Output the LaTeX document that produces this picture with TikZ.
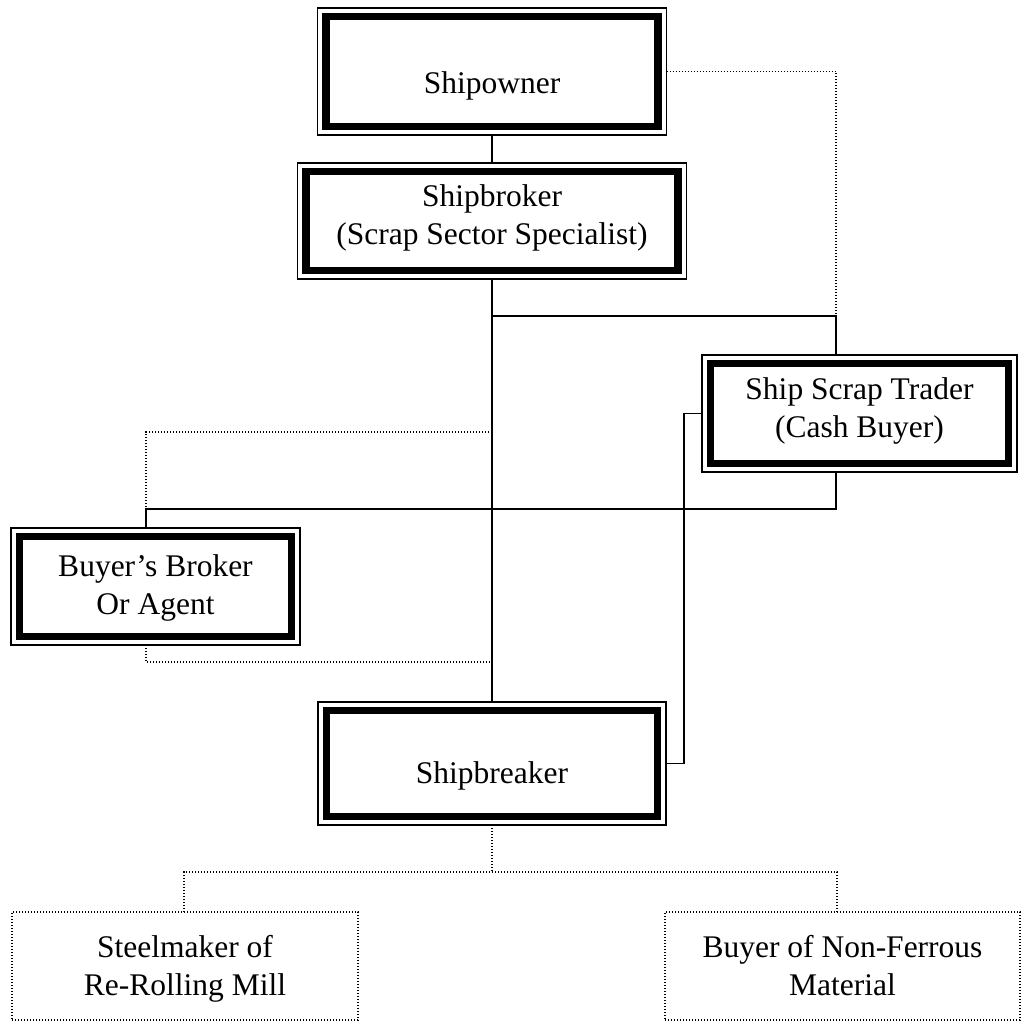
\documentclass[tikz,border=0pt]{standalone}
\usepackage{fontspec}
\setmainfont{Liberation Serif}
\usetikzlibrary{calc}
\begin{document}
\begin{tikzpicture}[x=1pt,y=-1pt,
  framebox/.style={draw, line width=1.2pt, inner sep=0pt, outer sep=0pt},
  dotbox/.style={draw, line width=1.2pt, dash pattern=on 1.2pt off 1.8pt, inner sep=0pt, outer sep=0pt},
  lbl/.style={align=center, font=\fontsize{31.5}{38}\selectfont, inner sep=0pt},
  conn/.style={line width=1.9pt},
  dconn/.style={line width=1.2pt, dash pattern=on 1.2pt off 1.8pt}]
\useasboundingbox (0,0) rectangle (1023,1024);
% boxes
\node[framebox, minimum width=349pt, minimum height=127pt] (owner) at (492,71.5) {};
\node[framebox, minimum width=389pt, minimum height=116pt] (broker) at (492,221) {};
\node[framebox, minimum width=315pt, minimum height=117pt] (trader) at (859.5,413.5) {};
\node[framebox, minimum width=289pt, minimum height=117pt] (bbroker) at (155.5,586.5) {};
\node[framebox, minimum width=348pt, minimum height=123pt] (breaker) at (492,763.5) {};
\node[dotbox, minimum width=346pt, minimum height=108pt] (steel) at (185,966) {};
\node[dotbox, minimum width=355pt, minimum height=108pt] (nonfe) at (842.5,966) {};
% thick inner frames
\foreach \n in {owner,broker,trader,bbroker,breaker}
  \draw[line width=7.8pt] ($(\n.north west)+(8.5,8.5)$) rectangle ($(\n.south east)+(-8.5,-8.5)$);
% labels
\node[lbl] (ownerT) at (492,86) {Shipowner};
\node[lbl] (brokerT) at (492,218) {Shipbroker\\(Scrap Sector Specialist)};
\node[lbl] (traderT) at (859.5,410.5) {Ship Scrap Trader\\(Cash Buyer)};
\node[lbl] (bbrokerT) at (155.5,588) {Buyer’s Broker\\Or Agent};
\node[lbl] (breakerT) at (492,776) {Shipbreaker};
\node[lbl] (steelT) at (185,969) {Steelmaker of\\Re-Rolling Mill};
\node[lbl] (nonfeT) at (842.5,966) {Buyer of Non-Ferrous\\Material};
% helper coordinates
\coordinate (tx) at (836,0);
\coordinate (bx) at (146,0);
\coordinate (lx) at (684,0);
\coordinate (j1) at (492,316);
\coordinate (sx) at (184,0);
\coordinate (nx) at (837,0);
% solid connectors
\draw[conn] (owner.south) -- (broker.north);
\draw[conn] (broker.south) -- (breaker.north);
\draw[conn] (j1) -| (tx |- trader.north);
\draw[conn] (trader.west) -| (lx |- breaker.east) -- (breaker.east);
\draw[conn] (tx |- trader.south) -- (tx |- 0,509) -| (bx |- bbroker.north);
% dotted connectors
\draw[dconn] (owner.east) -| (tx |- j1);
\draw[dconn] (492,432) -| (bx |- 0,509);
\draw[dconn] (bx |- bbroker.south) |- (492,662);
\draw[dconn] (breaker.south) -- (492,872);
\draw[dconn] (sx |- steel.north) |- (nx |- 0,872) -- (nx |- nonfe.north);
\end{tikzpicture}
\end{document}
